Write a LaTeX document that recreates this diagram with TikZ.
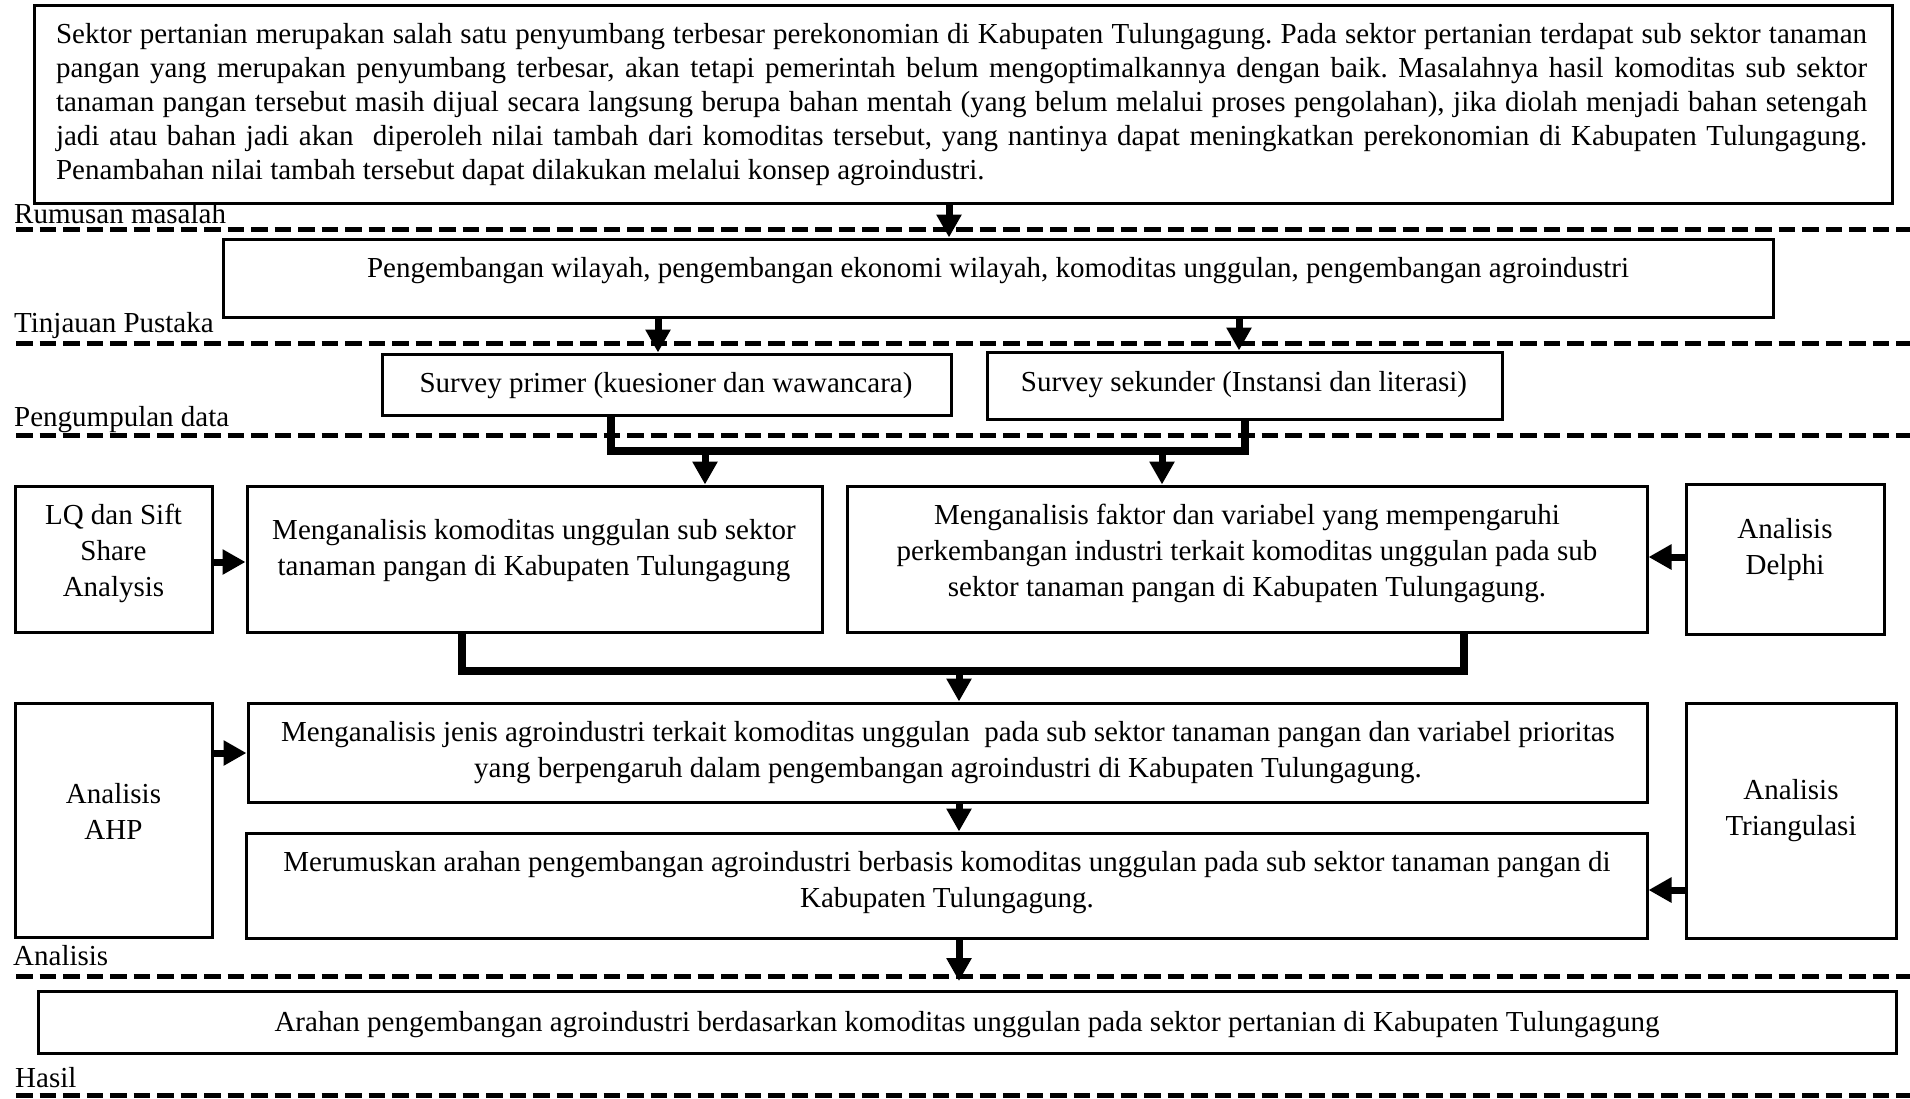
\documentclass[tikz,border=0pt]{standalone}
\usepackage{fontspec}
\setmainfont{Liberation Serif}
\usetikzlibrary{arrows.meta,fit}
\begin{document}
\begin{tikzpicture}[x=1pt,y=-1pt,
  box/.style={draw,line width=3pt,inner sep=0pt},
  txt/.style={inner sep=0pt,align=center,font=\fontsize{29}{36}\selectfont},
  lab/.style={inner sep=0pt,anchor=base west,font=\fontsize{29}{34}\selectfont},
  arr/.style={line width=7pt,-{Triangle[width=24pt,length=23pt]}},
  bus/.style={line width=8pt,line join=miter},
  dline/.style={line width=5pt,dash pattern=on 16.5pt off 7pt}]
\useasboundingbox (0,0) rectangle (1910,1098);
\frenchspacing
% dashed phase separators
\foreach \yy in {229,343,435,976,1095} \draw[dline] (16,\yy) -- (1910,\yy);
% phase labels
\node[lab] (lRum) at (14,223) {Rumusan masalah};
\node[lab] (lTin) at (14,332) {Tinjauan Pustaka};
\node[lab] (lPen) at (14,426) {Pengumpulan data};
\node[lab] (lAna) at (13,965) {Analisis};
\node[lab] (lHas) at (15,1087) {Hasil};
% boxes
\node[box,fit={(34,5) (1892,203)}] (top) {};
\node[box,fit={(223,239) (1773,317)}] (b2) {};
\node[box,fit={(382,354) (951,415)}] (primer) {};
\node[box,fit={(987,352) (1502,419)}] (sek) {};
\node[box,fit={(15,486) (212,632)}] (lq) {};
\node[box,fit={(247,486) (822,632)}] (kom) {};
\node[box,fit={(847,486) (1647,632)}] (fak) {};
\node[box,fit={(1686,484) (1884,634)}] (delphi) {};
\node[box,fit={(15,703) (212,937)}] (ahp) {};
\node[box,fit={(248,703) (1647,802)}] (jenis) {};
\node[box,fit={(246,833) (1647,938)}] (rum) {};
\node[box,fit={(1686,703) (1896,938)}] (tri) {};
\node[box,fit={(38,991) (1896,1053)}] (final) {};
% texts
\node[txt,font=\fontsize{29}{34}\selectfont,align=left] (topT) at (961.5,105) {%
\makebox[1811pt][s]{Sektor pertanian merupakan salah satu penyumbang terbesar perekonomian di Kabupaten Tulungagung. Pada sektor pertanian terdapat sub sektor tanaman}\\
\makebox[1811pt][s]{pangan yang merupakan penyumbang terbesar, akan tetapi pemerintah belum mengoptimalkannya dengan baik. Masalahnya hasil komoditas sub sektor}\\
\makebox[1811pt][s]{tanaman pangan tersebut masih dijual secara langsung berupa bahan mentah (yang belum melalui proses pengolahan), jika diolah menjadi bahan setengah}\\
\makebox[1811pt][s]{jadi atau bahan jadi akan\ \ diperoleh nilai tambah dari komoditas tersebut, yang nantinya dapat meningkatkan perekonomian di Kabupaten Tulungagung.}\\
Penambahan nilai tambah tersebut dapat dilakukan melalui konsep agroindustri.};
\node[txt,anchor=base] (b2T) at (998,277) {Pengembangan wilayah, pengembangan ekonomi wilayah, komoditas unggulan, pengembangan agroindustri};
\node[txt,anchor=base] (primerT) at (666,392) {Survey primer (kuesioner dan wawancara)};
\node[txt,anchor=base] (sekT) at (1244,391) {Survey sekunder (Instansi dan literasi)};
\node[txt] (lqT) at (113.5,553) {LQ dan Sift\\Share\\Analysis};
\node[txt] (komT) at (534,551) {Menganalisis komoditas unggulan sub sektor\\tanaman pangan di Kabupaten Tulungagung};
\node[txt] (fakT) at (1247,553.5) {Menganalisis faktor dan variabel yang mempengaruhi\\perkembangan industri terkait komoditas unggulan pada sub\\sektor tanaman pangan di Kabupaten Tulungagung.};
\node[txt] (delphiT) at (1785,550) {Analisis\\Delphi};
\node[txt] (jenisT) at (948,753) {Menganalisis jenis agroindustri terkait komoditas unggulan\ \ pada sub sektor tanaman pangan dan variabel prioritas\\yang berpengaruh dalam pengembangan agroindustri di Kabupaten Tulungagung.};
\node[txt] (rumT) at (947,882.5) {Merumuskan arahan pengembangan agroindustri berbasis komoditas unggulan pada sub sektor tanaman pangan di\\Kabupaten Tulungagung.};
\node[txt] (ahpT) at (113.5,811) {Analisis\\AHP};
\node[txt] (triT) at (1791,811) {Analisis\\Triangulasi};
\node[txt,anchor=base] (finalT) at (967,1031) {Arahan pengembangan agroindustri berdasarkan komoditas unggulan pada sektor pertanian di Kabupaten Tulungagung};
% helper coordinates
\coordinate (xA) at (949,0);
\coordinate (xB) at (658,0);
\coordinate (xC) at (1239,0);
\coordinate (xE) at (705,0);
\coordinate (xF) at (1162,0);
\coordinate (xM) at (959,0);
\coordinate (bus1L) at (611,451);
\coordinate (bus1R) at (1244.5,451);
\coordinate (bus2L) at (462,671);
\coordinate (bus2R) at (1464,671);
\coordinate (yLQ) at (0,562);
\coordinate (yDe) at (0,557);
\coordinate (yAH) at (0,753);
\coordinate (yTr) at (0,890);
\coordinate (finTip) at (959,981);
% connectors
\draw[arr] (top.south -| xA) -- (b2.north -| xA);
\draw[arr] (b2.south -| xB) -- (primer.north -| xB);
\draw[arr] (b2.south -| xC) -- (sek.north -| xC);
\draw[bus] (primer.south -| bus1L) -- (bus1L) -- (bus1R) -- (sek.south -| bus1R);
\draw[arr] (bus1L -| xE) -- (kom.north -| xE);
\draw[arr] (bus1L -| xF) -- (fak.north -| xF);
\draw[arr] (lq.east |- yLQ) -- (kom.west |- yLQ);
\draw[arr] (delphi.west |- yDe) -- (fak.east |- yDe);
\draw[bus] (kom.south -| bus2L) -- (bus2L) -- (bus2R) -- (fak.south -| bus2R);
\draw[arr] (bus2L -| xM) -- (jenis.north -| xM);
\draw[arr] (ahp.east |- yAH) -- (jenis.west |- yAH);
\draw[arr] (jenis.south -| xM) -- (rum.north -| xM);
\draw[arr] (tri.west |- yTr) -- (rum.east |- yTr);
\draw[arr] (rum.south -| xM) -- (finTip);
\end{tikzpicture}
\end{document}
